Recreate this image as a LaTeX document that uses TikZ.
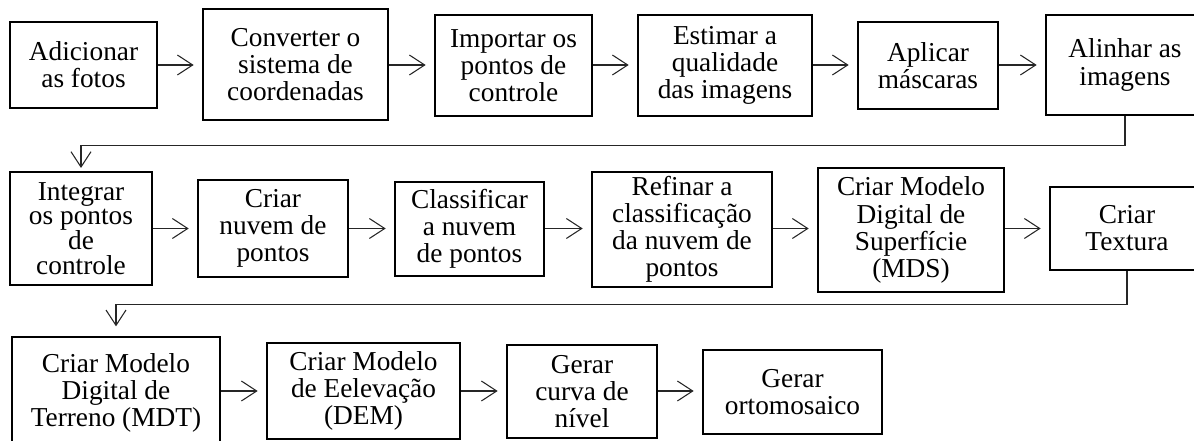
\documentclass[tikz,border=0pt]{standalone}
\usepackage{fontspec}
\setmainfont{Liberation Serif}
\usetikzlibrary{arrows.meta}
\begin{document}
\begin{tikzpicture}[x=0.75pt,y=-0.75pt,
  box/.style={draw=black, line width=2pt, align=center, inner sep=0pt,
    font=\fontsize{20.5}{20.3}\selectfont},
  sz/.style 2 args={minimum width=#1*0.75pt, minimum height=#2*0.75pt},
  conn/.style={draw=black!85, line width=0.8pt,
    -{Straight Barb[length=11.5pt,width=15pt,line width=0.8pt]}, shorten >=6pt},
  vconn/.style={conn, shorten >=2pt}]
\useasboundingbox (0,0) rectangle (1194,441);
\clip (0,0) rectangle (1194,441);
% row 1
\node[box, sz={147}{86}]  (b1) at (83.5,65)   {Adicionar\\as fotos};
\node[box, sz={185}{111}] (b2) at (295.5,64.5) {Converter o\\sistema de\\coordenadas};
\node[box, sz={157}{101}] (b3) at (513.5,65.5) {Importar os\\pontos de\\controle};
\node[box, sz={174}{101}] (b4) at (725,65.5)  {Estimar a\\qualidade\\das imagens};
\node[box, sz={140}{87}]  (b5) at (928,65.5)  {Aplicar\\máscaras};
\node[box, sz={158}{100}] (b6) at (1125,65)   {Alinhar as\\imagens};
% row 2
\node[box, sz={142}{113}, font=\fontsize{20.5}{18.6}\selectfont] (b7) at (81,228.5) {Integrar\\os pontos\\de\\controle};
\node[box, sz={150}{97}]  (b8) at (273,228.5) {Criar\\nuvem de\\pontos};
\node[box, sz={149}{94}]  (b9) at (469.5,229) {Classificar\\a nuvem\\de pontos};
\node[box, sz={180}{115}] (b10) at (682,229.5) {Refinar a\\classificação\\da nuvem de\\pontos};
\node[box, sz={186}{124}] (b11) at (911,230)  {Criar Modelo\\Digital de\\Superfície\\(MDS)};
\node[box, sz={154}{83}]  (b12) at (1127,228.5) {Criar\\Textura};
% row 3
\node[box, sz={208}{112}] (b13) at (116,393) {Criar Modelo\\Digital de\\Terreno (MDT)};
\node[box, sz={193}{96}]  (b14) at (363.5,391) {Criar Modelo\\de Eelevação\\(DEM)};
\node[box, sz={150}{93}]  (b15) at (582,391.5) {Gerar\\curva de\\nível};
\node[box, sz={179}{84}]  (b16) at (792.5,392) {Gerar\\ortomosaico};
% connectors row 1
\draw[conn] (b1.east) -- (b1.east -| b2.west);
\draw[conn] (b2.east |- b1.east) -- (b1.east -| b3.west);
\draw[conn] (b3.east |- b1.east) -- (b1.east -| b4.west);
\draw[conn] (b4.east |- b1.east) -- (b1.east -| b5.west);
\draw[conn] (b5.east |- b1.east) -- (b1.east -| b6.west);
\draw[vconn] (b6.south) -- ++(0,29) -| (b7.north);
% row 2
\draw[conn] (b7.east |- b8.east) -- (b8.west);
\draw[conn] (b8.east) -- (b8.east -| b9.west);
\draw[conn] (b9.east |- b8.east) -- (b8.east -| b10.west);
\draw[conn] (b10.east |- b8.east) -- (b8.east -| b11.west);
\draw[conn] (b11.east |- b8.east) -- (b8.east -| b12.west);
\draw[conn, shorten >=7pt] (b12.south) -- ++(0,33) -| (b13.north);
% row 3
\draw[conn] (b13.east |- b14.east) -- (b14.west);
\draw[conn] (b14.east) -- (b14.east -| b15.west);
\draw[conn] (b15.east |- b14.east) -- (b14.east -| b16.west);
\end{tikzpicture}
\end{document}
